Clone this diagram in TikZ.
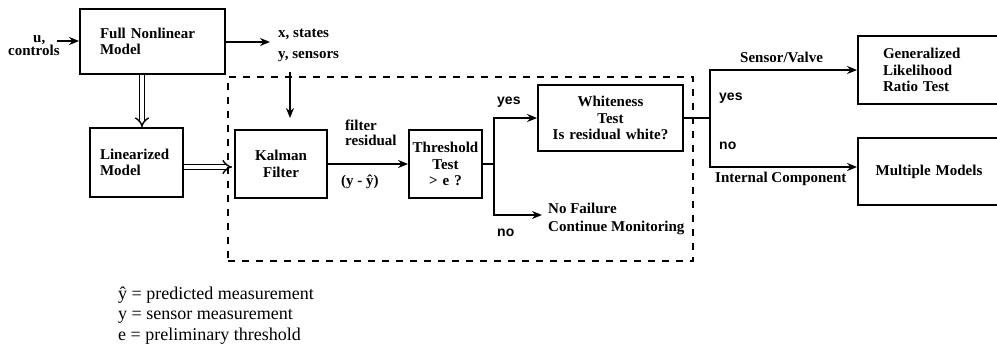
\documentclass[tikz,border=0pt]{standalone}
\usepackage{fontspec}
\setmainfont{Liberation Serif}
\newfontfamily\ynfont{Liberation Sans}
\usetikzlibrary{arrows.meta}
\begin{document}
\begin{tikzpicture}[x=1pt,y=-1pt,
  box/.style={draw, line width=1.8pt, inner ysep=0pt, font=\bfseries\fontsize{15}{16.7}\selectfont},
  lbl/.style={anchor=base west, inner sep=0pt, font=\bfseries\fontsize{15}{16.7}\selectfont},
  yn/.style={anchor=base west, inner sep=0pt, font=\ynfont\bfseries\fontsize{14}{16}\selectfont},
  leg/.style={anchor=base west, inner sep=0pt, font=\fontsize{18}{21}\selectfont},
  arr/.style={line width=1.8pt, -{Stealth[length=10pt,width=8pt]}},
  conn/.style={line width=1.8pt},
  dbl/.style={double, double distance=3.5pt, line width=1.4pt, -{Implies}},
  dashbox/.style={draw, line width=2.8pt, dash pattern=on 7pt off 7pt, inner sep=0pt}
]
\useasboundingbox (0,0) rectangle (997,348);

% group frame
\node[dashbox, minimum width=465pt, minimum height=184pt] (grp) at (460.5,169) {};

% boxes
\node[box, minimum width=145pt, minimum height=65pt, inner xsep=20pt, text width=105pt, align=left] (fnm) at (152.5,41.5) {Full Nonlinear\\Model};
\node[box, minimum width=93pt, minimum height=69pt, inner xsep=10pt, text width=73pt, align=left] (lm) at (136.5,162.5) {Linearized\\Model};
\node[box, minimum width=92pt, minimum height=68pt, inner xsep=10pt, text width=72pt, align=center] (kf) at (281,164) {Kalman\\Filter};
\node[box, minimum width=73pt, minimum height=68pt, inner xsep=2pt, text width=69pt, align=center] (tt) at (445.5,164) {Threshold\\Test\\> e ?};
\node[box, minimum width=145pt, minimum height=66pt, inner xsep=5pt, text width=135pt, align=center] (wt) at (610.5,118) {Whiteness\\Test\\Is residual white?};
\node[box, minimum width=142pt, minimum height=68pt, inner xsep=25pt, text width=92pt, align=left] (glrt) at (929,70) {Generalized\\Likelihood\\Ratio Test};
\node[box, minimum width=142pt, minimum height=67pt, inner xsep=5pt, text width=132pt, align=center] (mm) at (929,171.5) {Multiple Models};

% labels
\node[lbl] (u) at (33,42) {u,};
\node[lbl] (ctl) at (8,56) {controls};
\node[lbl] (xst) at (278,37) {x, states};
\node[lbl] (ysn) at (278,58) {y, sensors};
\node[lbl] (fr1) at (345,130) {filter};
\node[lbl] (fr2) at (345,145) {residual};
\node[lbl] (yy) at (341,185) {(y - ŷ)};
\node[yn] (yes1) at (497,104) {yes};
\node[yn] (no1) at (497,236) {no};
\node[lbl] (nf1) at (548,213) {No Failure};
\node[lbl] (nf2) at (548,231) {Continue Monitoring};
\node[lbl] (sv) at (740,62) {Sensor/Valve};
\node[yn] (yes2) at (719,100) {yes};
\node[yn] (no2) at (719,149) {no};
\node[lbl] (ic) at (715,182) {Internal Component};

% legend
\node[leg] (l1) at (118,299) {ŷ = predicted measurement};
\node[leg] (l2) at (118,319) {y = sensor measurement};
\node[leg] (l3) at (118,340) {e = preliminary threshold};

% connectors
\coordinate (uin) at (57,41);
\draw[arr] (uin) -- (uin -| fnm.west);
\coordinate (xs) at (270,42);
\draw[arr] (xs -| fnm.east) -- (xs);
\coordinate (ys1) at (290,72);
\coordinate (ys2) at (290,118);
\draw[arr] (ys1) -- (ys2);
\coordinate (d1) at (142,0);
\draw[dbl] (fnm.south -| d1) -- (lm.north -| d1);
\coordinate (d2) at (0,167);
\draw[dbl] (lm.east |- d2) -- ([xshift=-2pt]kf.west |- d2);
\draw[arr] (kf.east) -- (tt.west);
\coordinate (b1) at (494,164);
\draw[conn] (tt.east) -- (b1);
\draw[arr] (b1) |- (wt.west);
\coordinate (nf) at (542,215);
\draw[arr] (b1) |- (nf);
\coordinate (b2) at (710,118);
\draw[conn] (wt.east |- b2) -- (b2);
\draw[arr] (b2) |- (glrt.west);
\coordinate (mmin) at (0,167);
\draw[arr] (b2) |- (mmin -| mm.west);
\end{tikzpicture}
\end{document}
